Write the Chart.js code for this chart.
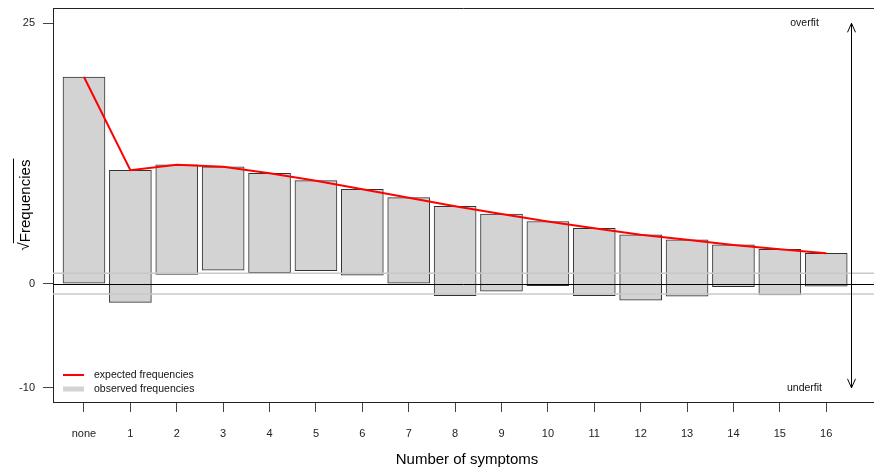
<!DOCTYPE html>
<html>
<head>
<meta charset="utf-8">
<script src="https://cdn.jsdelivr.net/npm/chart.js@4"></script>
<style>
  html, body { margin: 0; padding: 0; background: #fff; overflow: hidden; }
  #wrap { width: 874px; height: 471px; }
</style>
</head>
<body>
<div id="wrap"><canvas id="myChart" width="874" height="471"></canvas></div>
<script>
// categorias (numero de sintomas)
const categorias = ["none", "1", "2", "3", "4", "5", "6", "7", "8", "9", "10", "11", "12", "13", "14", "15", "16"];
// raiz de frecuencias esperadas
const esperadas = [19.84, 10.89, 11.42, 11.23, 10.6, 9.89, 9.06, 8.26, 7.43, 6.69, 5.97, 5.32, 4.7, 4.22, 3.72, 3.31, 2.92];
// raiz de frecuencias observadas
const observadas = [19.84, 12.68, 10.52, 9.94, 9.54, 8.64, 8.25, 8.26, 8.58, 7.42, 6.16, 6.47, 6.29, 5.43, 4.01, 4.39, 3.17];
const ticksY = [-10, 0, 25];
const lineasRef = [1, -1];

const fuente = "'Liberation Sans', Arial, sans-serif";

// barras colgantes: desde esperada - observada hasta esperada
const barras = categorias.map((c, i) => ({ x: i, y: [esperadas[i] - observadas[i], esperadas[i]] }));
const curva = categorias.map((c, i) => ({ x: i, y: esperadas[i] }));

const extras = {
  id: "extras",
  afterDatasetDraw(chart, args) {
    if (args.index !== 0) return;
    const { ctx, chartArea, scales } = chart;
    const y = scales.y;
    ctx.save();
    // lineas de referencia grises
    ctx.strokeStyle = "#c8c8c8";
    ctx.lineWidth = 1.5;
    lineasRef.forEach((v) => {
      const py = y.getPixelForValue(v);
      ctx.beginPath();
      ctx.moveTo(chartArea.left, py);
      ctx.lineTo(chartArea.right, py);
      ctx.stroke();
    });
    // linea cero
    ctx.strokeStyle = "#000";
    ctx.lineWidth = 1;
    const p0 = Math.round(y.getPixelForValue(0)) + 0.5;
    ctx.beginPath();
    ctx.moveTo(chartArea.left, p0);
    ctx.lineTo(chartArea.right, p0);
    ctx.stroke();
    ctx.restore();
  },
  afterDraw(chart) {
    const { ctx, chartArea, scales } = chart;
    const x = scales.x, y = scales.y;
    ctx.save();
    // borde superior
    ctx.strokeStyle = "#222";
    ctx.lineWidth = 1;
    ctx.beginPath();
    ctx.moveTo(chartArea.left, chartArea.top + 0.5);
    ctx.lineTo(chartArea.right, chartArea.top + 0.5);
    ctx.stroke();

    // flecha overfit / underfit
    const ax = Math.round(x.getPixelForValue(16.54)) + 0.5;
    const yTop = y.getPixelForValue(25);
    const yBot = y.getPixelForValue(-10);
    ctx.strokeStyle = "#000";
    ctx.beginPath();
    ctx.moveTo(ax, yTop);
    ctx.lineTo(ax, yBot);
    ctx.moveTo(ax - 4, yTop + 9);
    ctx.lineTo(ax, yTop);
    ctx.lineTo(ax + 4, yTop + 9);
    ctx.moveTo(ax - 4, yBot - 9);
    ctx.lineTo(ax, yBot);
    ctx.lineTo(ax + 4, yBot - 9);
    ctx.stroke();
    ctx.fillStyle = "#111";
    ctx.font = "10.5px " + fuente;
    ctx.textAlign = "center";
    ctx.textBaseline = "middle";
    ctx.fillText("overfit", ax - 47, yTop);
    ctx.fillText("underfit", ax - 47, yBot);

    // leyenda
    const lx = chartArea.left + 10;
    ctx.lineWidth = 2;
    ctx.strokeStyle = "#ff0000";
    ctx.beginPath();
    ctx.moveTo(lx, 375);
    ctx.lineTo(lx + 21, 375);
    ctx.stroke();
    ctx.lineWidth = 5;
    ctx.strokeStyle = "#d3d3d3";
    ctx.beginPath();
    ctx.moveTo(lx, 389);
    ctx.lineTo(lx + 21, 389);
    ctx.stroke();
    ctx.textAlign = "left";
    ctx.fillStyle = "#111";
    ctx.font = "10.5px " + fuente;
    ctx.fillText("expected frequencies", lx + 31, 375);
    ctx.fillText("observed frequencies", lx + 31, 389);

    // titulo eje x
    ctx.font = "15px " + fuente;
    ctx.textAlign = "center";
    ctx.fillStyle = "#000";
    ctx.fillText("Number of symptoms", 467, 460);

    // titulo eje y con raiz
    ctx.translate(25, 205);
    ctx.rotate(-Math.PI / 2);
    ctx.font = "15px " + fuente;
    const raiz = "\u221A";
    const txt = "Frequencies";
    const wR = ctx.measureText(raiz).width;
    const wT = ctx.measureText(txt).width;
    const x0 = -(wR + wT) / 2;
    ctx.textAlign = "left";
    ctx.fillText(raiz, x0, 0);
    ctx.fillText(txt, x0 + wR, 1);
    ctx.lineWidth = 1;
    ctx.strokeStyle = "#000";
    ctx.beginPath();
    ctx.moveTo(x0 + wR - 1, -11.5);
    ctx.lineTo(x0 + wR + wT + 1, -11.5);
    ctx.stroke();
    ctx.restore();
  }
};

const ctx = document.getElementById("myChart");

new Chart(ctx, {
  type: "bar",
  data: {
    datasets: [
      {
        type: "bar",
        label: "observed frequencies",
        data: barras,
        backgroundColor: "#d3d3d3",
        borderColor: "#333",
        borderWidth: 1,
        borderSkipped: false,
        barThickness: 42,
        order: 1,
      },
      {
        type: "line",
        label: "expected frequencies",
        data: curva,
        borderColor: "#ff0000",
        borderWidth: 2,
        pointRadius: 0,
        tension: 0,
        fill: false,
        order: 0,
      },
    ],
  },
  options: {
    responsive: false,
    animation: false,
    layout: { padding: { top: 8, right: 0, left: 0, bottom: 0 } },
    plugins: { legend: { display: false }, tooltip: { enabled: false } },
    scales: {
      x: {
        type: "linear",
        min: -0.668,
        max: 17.03,
        offset: false,
        afterBuildTicks: (scale) => {
          scale.ticks = categorias.map((c, i) => ({ value: i }));
        },
        afterFit: (scale) => {
          scale.height = 69;
          scale.paddingLeft = 0;
          scale.paddingRight = 0;
        },
        ticks: {
          callback: (v) => categorias[v],
          font: { family: fuente, size: 11 },
          color: "#222",
          padding: 15,
          maxRotation: 0,
          autoSkip: false,
        },
        grid: { offset: false, drawOnChartArea: false, tickLength: 10, color: "#444" },
        border: { display: true, color: "#222", width: 1 },
      },
      y: {
        min: -11.36,
        max: 26.47,
        afterBuildTicks: (scale) => {
          scale.ticks = ticksY.map((v) => ({ value: v }));
        },
        afterFit: (scale) => {
          scale.width = 53;
          scale.paddingTop = 0;
          scale.paddingBottom = 0;
        },
        ticks: {
          font: { family: fuente, size: 11 },
          color: "#222",
          padding: 8,
        },
        grid: { drawOnChartArea: false, tickLength: 10, color: "#444" },
        border: { display: true, color: "#222", width: 1 },
      },
    },
  },
  plugins: [extras],
});
</script>
</body>
</html>
